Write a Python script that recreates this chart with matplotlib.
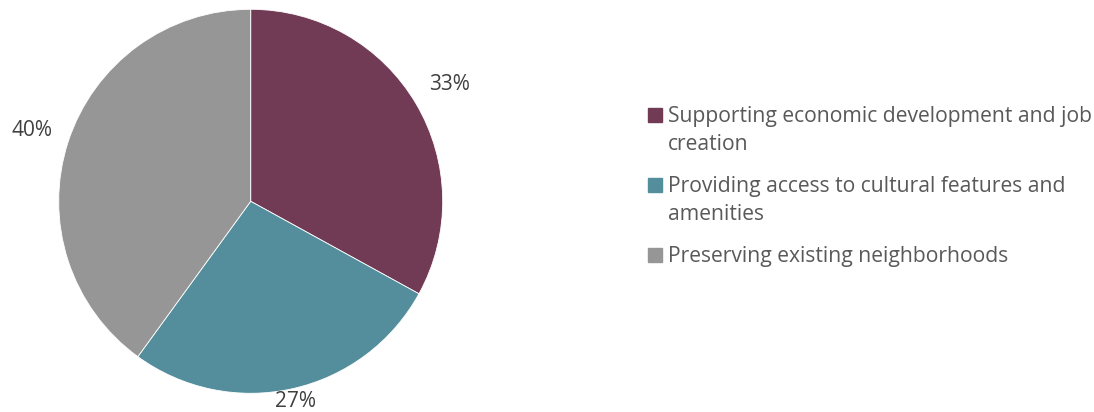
import matplotlib.pyplot as plt
import numpy as np

plt.rcParams['font.family'] = ['Open Sans', 'DejaVu Sans']

categories = ['Supporting economic development and job\ncreation',
              'Providing access to cultural features and\namenities',
              'Preserving existing neighborhoods']
shares = [33, 27, 40]
colors = ['#713A55', '#548E9C', '#969696']
label_dist = [1.20, 1.07, 1.20]

W, H = 1094, 412
fig = plt.figure(figsize=(W / 100, H / 100), dpi=100)

# pie centre and radius in pixels
cx, cy, r = 250.7, H - 201.3, 192
lim = 1.3
side = 2 * lim * r
ax = fig.add_axes([(cx - side / 2) / W, (cy - side / 2) / H, side / W, side / H])
wedges, _ = ax.pie(shares, colors=colors, startangle=90, counterclock=False,
                   radius=1, wedgeprops=dict(linewidth=0.6, edgecolor='white'))
ax.set_xlim(-lim, lim)
ax.set_ylim(-lim, lim)
ax.set_aspect('equal')
ax.axis('off')

# percent labels outside
for w, s, d in zip(wedges, shares, label_dist):
    ang = np.deg2rad((w.theta1 + w.theta2) / 2)
    ax.text(d * np.cos(ang), d * np.sin(ang), f'{s}%', ha='center', va='center',
            fontsize=15, color='#404040')

# legend drawn by hand so the swatch sits on the first line like the original
box, tx = 14, 668
line_h, gap = 28, 14
base = 122
for lab, c in zip(categories, colors):
    fig.patches.append(plt.Rectangle((648 / W, 1 - base / H), box / W, box / H,
                                     color=c, transform=fig.transFigure, figure=fig))
    for ln in lab.split('\n'):
        fig.text(tx / W, 1 - base / H, ln, ha='left', va='baseline',
                 fontsize=15.2, color='#595959')
        base += line_h
    base += gap

fig.savefig('out.png', dpi=100)
